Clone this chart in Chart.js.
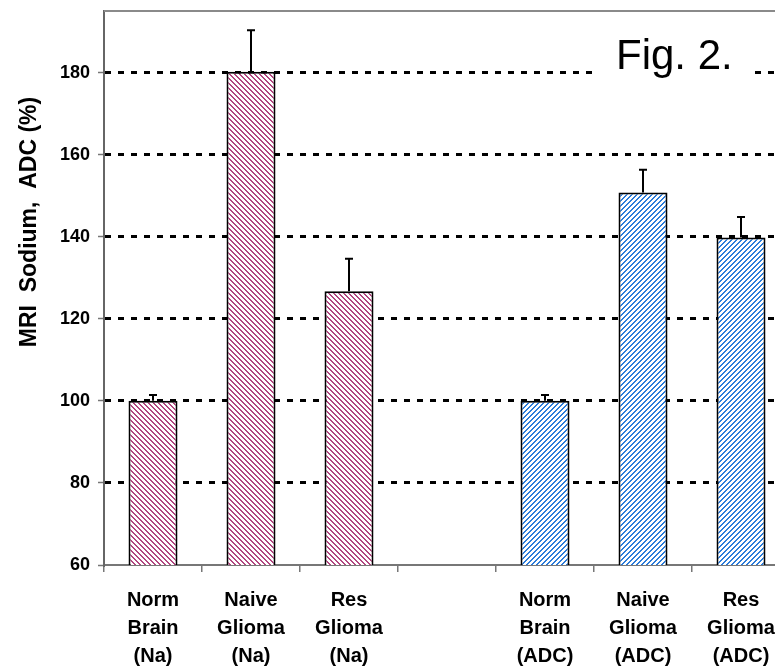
<!DOCTYPE html>
<html>
<head>
<meta charset="utf-8">
<script src="https://cdn.jsdelivr.net/npm/chart.js@4"></script>
<style>
  html, body { margin: 0; padding: 0; background: #fff; overflow: hidden; }
  #wrap { width: 800px; height: 666px; position: relative; }
</style>
</head>
<body>
<div id="wrap"><canvas id="chart"></canvas></div>
<script>
// chart data
const categories = [
    ["Norm", "Brain", "(Na)"],
    ["Naive", "Glioma", "(Na)"],
    ["Res", "Glioma", "(Na)"],
    "",
    ["Norm", "Brain", "(ADC)"],
    ["Naive", "Glioma", "(ADC)"],
    ["Res", "Glioma", "(ADC)"]
];
const values = [100, 180.2, 126.7, null, 100, 150.8, 139.8];
const errorsUp = [1.4, 10.1, 7.9, null, 1.4, 5.5, 5.0];
const groups = ["Na", "Na", "Na", null, "ADC", "ADC", "ADC"];
const yTicks = [60, 80, 100, 120, 140, 160, 180];
const yTitle = "MRI  Sodium,  ADC (%)";
const figLabel = "Fig. 2.";

const FONT = "'Liberation Sans', Arial, sans-serif";

// hatch fill: diagonal stripes built pixel by pixel
function makeHatch(rgb, backslash) {
    const n = 5;
    const c = document.createElement("canvas");
    c.width = n; c.height = n;
    const g = c.getContext("2d");
    const img = g.createImageData(n, n);
    for (let y = 0; y < n; y++) {
        for (let x = 0; x < n; x++) {
            const k = backslash ? ((x - y) % n + n) % n : (x + y) % n;
            const on = k < 2;
            const i = (y * n + x) * 4;
            img.data[i] = on ? rgb[0] : 255;
            img.data[i + 1] = on ? rgb[1] : 255;
            img.data[i + 2] = on ? rgb[2] : 255;
            img.data[i + 3] = 255;
        }
    }
    g.putImageData(img, 0, 0);
    return document.getElementById("chart").getContext("2d").createPattern(c, "repeat");
}

const naFill = makeHatch([178, 70, 128], true);
const adcFill = makeHatch([44, 124, 218], false);
const fills = groups.map(g => g === "Na" ? naFill : (g === "ADC" ? adcFill : "transparent"));

// upper error bars
const errorBars = {
    id: "errorBars",
    afterDatasetsDraw(chart) {
        const ctx = chart.ctx;
        const y = chart.scales.y;
        const meta = chart.getDatasetMeta(0);
        ctx.save();
        ctx.strokeStyle = "#000";
        ctx.lineWidth = 2;
        meta.data.forEach((bar, i) => {
            if (values[i] == null || errorsUp[i] == null) return;
            const top = y.getPixelForValue(values[i] + errorsUp[i]);
            ctx.beginPath();
            ctx.moveTo(bar.x, bar.y);
            ctx.lineTo(bar.x, top);
            ctx.moveTo(bar.x - 4, top);
            ctx.lineTo(bar.x + 4, top);
            ctx.stroke();
        });
        ctx.restore();
    }
};

// frame top line, rotated y title and the figure label
const extras = {
    id: "extras",
    afterDraw(chart) {
        const ctx = chart.ctx;
        const a = chart.chartArea;
        ctx.save();
        ctx.strokeStyle = "#8a8a8a";
        ctx.lineWidth = 2;
        ctx.beginPath();
        ctx.moveTo(a.left, a.top);
        ctx.lineTo(chart.width, a.top);
        ctx.stroke();

        ctx.fillStyle = "#000";
        ctx.translate(30, 222);
        ctx.rotate(-Math.PI / 2);
        ctx.font = "bold 23px " + FONT;
        ctx.textAlign = "center";
        ctx.textBaseline = "middle";
        ctx.fillText(yTitle, 0, 0);
        ctx.restore();

        ctx.save();
        ctx.fillStyle = "#fff";
        ctx.fillRect(597, 28, 157, 62);
        ctx.fillStyle = "#000";
        ctx.font = "42px " + FONT;
        ctx.textAlign = "left";
        ctx.textBaseline = "alphabetic";
        ctx.fillText(figLabel, 616, 69);
        ctx.restore();
    }
};

new Chart(document.getElementById("chart"), {
    type: "bar",
    data: {
        labels: categories,
        datasets: [{
            data: values,
            backgroundColor: fills,
            borderColor: "#000",
            borderWidth: 2,
            borderSkipped: false,
            barPercentage: 0.5,
            categoryPercentage: 1.0
        }]
    },
    plugins: [errorBars, extras],
    options: {
        responsive: true,
        maintainAspectRatio: false,
        animation: false,
        layout: { padding: { top: 11, right: 10, left: 0, bottom: 0 } },
        plugins: {
            legend: { display: false },
            tooltip: { enabled: false }
        },
        scales: {
            x: {
                afterFit(scale) {
                    scale.height = 101;
                    scale.paddingLeft = 0;
                    scale.paddingRight = 0;
                },
                grid: {
                    display: true,
                    drawOnChartArea: false,
                    drawTicks: true,
                    tickLength: 7,
                    tickColor: "#777",
                    lineWidth: 1.5
                },
                border: { color: "#777", width: 2 },
                ticks: {
                    color: "#000",
                    font: { family: FONT, size: 20, weight: "bold", lineHeight: 1.4 },
                    padding: 14,
                    maxRotation: 0,
                    autoSkip: false
                }
            },
            y: {
                min: 60,
                max: 195,
                afterFit(scale) {
                    scale.width = 104;
                    scale.paddingTop = 0;
                    scale.paddingBottom = 0;
                },
                afterBuildTicks(scale) {
                    scale.ticks = yTicks.map(v => ({ value: v }));
                },
                grid: {
                    color: ctx => ctx.tick && ctx.tick.value === 60 ? "rgba(0,0,0,0)" : "#000",
                    lineWidth: 3,
                    tickColor: "#777",
                    tickWidth: 1.5,
                    tickLength: 6,
                    tickBorderDash: []
                },
                border: { color: "#666", width: 2, dash: [6, 7] },
                ticks: {
                    color: "#000",
                    font: { family: FONT, size: 18, weight: "bold" },
                    padding: 8
                }
            }
        }
    }
});
</script>
</body>
</html>
